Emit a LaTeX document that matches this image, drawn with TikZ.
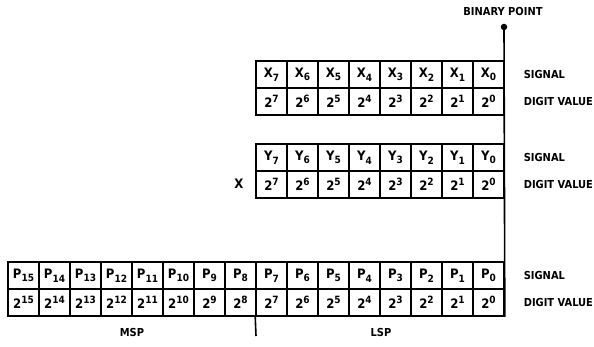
\documentclass[tikz,border=0pt]{standalone}
\usepackage{fontspec}
\newfontfamily\cfont{DejaVu Sans Condensed Bold}
\newcommand\mysub[1]{\raisebox{-0.5ex}{\fontsize{10}{10}\selectfont #1}}
\newcommand\mysup[1]{\raisebox{0.7ex}{\fontsize{10}{10}\selectfont #1}}
\begin{document}
\begin{tikzpicture}[x=1pt,y=-1pt,line width=1.6pt,
  cell/.style={draw,minimum width=31pt,minimum height=27pt,inner sep=0pt,font=\cfont\fontsize{13}{14}\selectfont},
  lab/.style={anchor=west,inner sep=0pt,font=\cfont\fontsize{11}{12}\selectfont},
  ctr/.style={inner sep=0pt,font=\cfont\fontsize{11}{12}\selectfont}]
\useasboundingbox (0,0) rectangle (594,347);
\foreach \i in {0,...,7}{
  \node[cell] (x\i) at ({504-31*(\i+0.5)},74.5) {X\mysub{\i}};
  \node[cell] (xd\i) at ({504-31*(\i+0.5)},101.5) {2\mysup{\i}};
  \node[cell] (y\i) at ({504-31*(\i+0.5)},157.5) {Y\mysub{\i}};
  \node[cell] (yd\i) at ({504-31*(\i+0.5)},184.5) {2\mysup{\i}};
}
\foreach \i in {0,...,15}{
  \node[cell] (p\i) at ({504-31*(\i+0.5)},275.5) {P\mysub{\i}};
  \node[cell] (pd\i) at ({504-31*(\i+0.5)},302.5) {2\mysup{\i}};
}
% labels
\node[lab] (sx) at (523,74.5) {SIGNAL};
\node[lab] (dx) at (523,101.5) {DIGIT VALUE};
\node[lab] (sy) at (523,157.5) {SIGNAL};
\node[lab] (dy) at (523,184.5) {DIGIT VALUE};
\node[lab] (sp) at (523,275.5) {SIGNAL};
\node[lab] (dp) at (523,302.5) {DIGIT VALUE};
\node[ctr,font=\cfont\fontsize{13}{14}\selectfont] (xl) at (239,184) {X};
\node[ctr] (msp) at (132,332) {MSP};
\node[ctr] (lsp) at (381,332) {LSP};
\node[ctr] (bpt) at (503,11) {BINARY POINT};
% binary point
\node[circle,fill,inner sep=0pt,minimum size=6.5pt] (bp) at (504,27) {};
\draw (bp.center) -- (pd0.south east);
\coordinate (tick) at (256,336);
\draw (pd7.south west) -- (tick);
\end{tikzpicture}
\end{document}
